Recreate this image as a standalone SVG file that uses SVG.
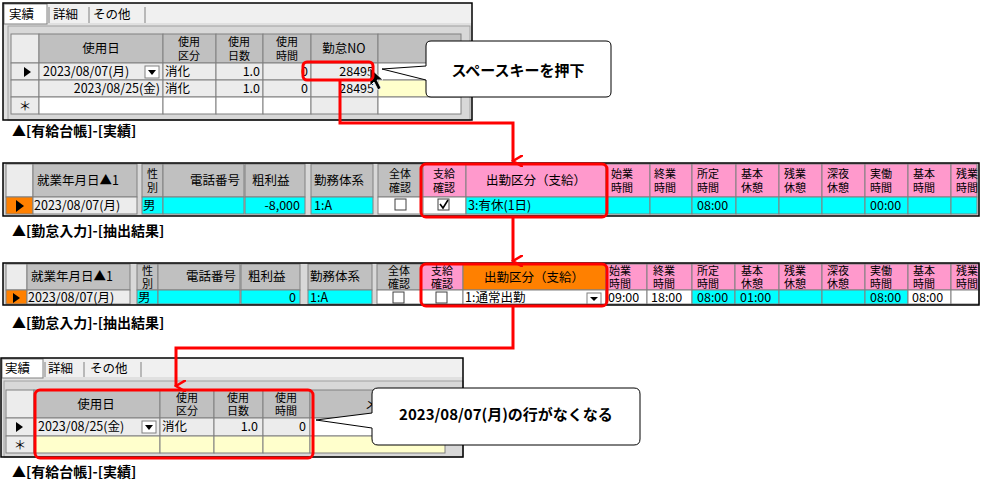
<svg xmlns="http://www.w3.org/2000/svg" width="981" height="494" viewBox="0 0 981 494">
<defs>
<style>
text{font-family:"Noto Sans CJK JP","DejaVu Sans",sans-serif;font-size:12.5px;fill:#000}
.h{font-size:11px}
.cap{font-size:14px;font-weight:bold}
.co{font-size:15px;font-weight:bold}
.g{fill:#c0c0c0;stroke:#808080;stroke-width:1}
.w{fill:#fff;stroke:#808080;stroke-width:1}
.e{fill:#ececec;stroke:#808080;stroke-width:1}
.y{fill:#ffffcc;stroke:#808080;stroke-width:1}
.p{fill:#ff99cc;stroke:#808080;stroke-width:1}
.o{fill:#ff8000;stroke:#808080;stroke-width:1}
.c{fill:#00ffff;stroke:#808080;stroke-width:1}
.red{fill:none;stroke:#ff0000;stroke-width:3}
.frame{fill:none;stroke:#000;stroke-width:1.5}
.cb{fill:#fff;stroke:#404040;stroke-width:1}
</style>
<marker id="ar" markerWidth="12" markerHeight="12" refX="6" refY="10" orient="auto" markerUnits="userSpaceOnUse"><path d="M0,0 L6,10 L12,0" fill="none" stroke="#ff0000" stroke-width="2.5"/></marker>
</defs>
<rect width="981" height="494" fill="#fff"/>

<g id="panel1">
<rect x="3" y="3" width="469" height="117" fill="#e0e0e0"/>
<rect x="3" y="3" width="469" height="20" fill="#f0f0f0"/>
<rect x="4" y="4" width="43" height="20" fill="#fff" stroke="#808080"/>
<text x="9" y="19">実績</text>
<line x1="49" y1="7" x2="49" y2="23" stroke="#808080"/><text x="53" y="19">詳細</text>
<line x1="89" y1="7" x2="89" y2="23" stroke="#808080"/><text x="93" y="19">その他</text>
<line x1="145" y1="7" x2="145" y2="23" stroke="#808080"/>
<rect x="8" y="26" width="462" height="94" fill="#d8d8d8" stroke="#a0a0a0"/>
<rect class="e" x="11" y="34" width="28" height="29"/>
<rect class="g" x="39" y="34" width="124" height="29"/><text x="101" y="53" text-anchor="middle">使用日</text>
<rect class="g" x="163" y="34" width="53" height="29"/><text class="h" x="189" y="46" text-anchor="middle">使用</text><text class="h" x="189" y="60" text-anchor="middle">区分</text>
<rect class="g" x="216" y="34" width="47" height="29"/><text class="h" x="239" y="46" text-anchor="middle">使用</text><text class="h" x="239" y="60" text-anchor="middle">日数</text>
<rect class="g" x="263" y="34" width="48" height="29"/><text class="h" x="287" y="46" text-anchor="middle">使用</text><text class="h" x="287" y="60" text-anchor="middle">時間</text>
<rect class="g" x="311" y="34" width="67" height="29"/><text x="344" y="53" text-anchor="middle">勤怠NO</text>
<rect class="g" x="378" y="34" width="83" height="29"/>
<rect class="e" x="11" y="63" width="28" height="17"/><path d="M24,67 L31,72 L24,77Z"/>
<rect class="e" x="39" y="63" width="124" height="17"/><text x="43" y="76">2023/08/07(月)</text>
<rect x="145" y="66" width="14" height="12" fill="#fff" stroke="#808080"/><path d="M148,70 L156,70 L152,75Z"/>
<rect class="e" x="163" y="63" width="53" height="17"/><text x="165" y="76">消化</text>
<rect class="e" x="216" y="63" width="47" height="17"/><text x="260" y="76" text-anchor="end">1.0</text>
<rect class="e" x="263" y="63" width="48" height="17"/><text x="308" y="76" text-anchor="end">0</text>
<rect class="e" x="311" y="63" width="67" height="17"/><text x="374" y="76" text-anchor="end">28495</text>
<rect class="w" x="378" y="63" width="83" height="17"/>
<rect class="e" x="11" y="80" width="28" height="17"/>
<rect class="e" x="39" y="80" width="124" height="17"/><text x="160" y="93" text-anchor="end">2023/08/25(金)</text>
<rect class="e" x="163" y="80" width="53" height="17"/><text x="165" y="93">消化</text>
<rect class="e" x="216" y="80" width="47" height="17"/><text x="260" y="93" text-anchor="end">1.0</text>
<rect class="e" x="263" y="80" width="48" height="17"/><text x="308" y="93" text-anchor="end">0</text>
<rect class="e" x="311" y="80" width="67" height="17"/><text x="374" y="93" text-anchor="end">28495</text>
<rect class="y" x="378" y="80" width="83" height="17"/>
<rect class="e" x="11" y="97" width="28" height="17"/><text x="25" y="111" text-anchor="middle">＊</text>
<rect class="w" x="39" y="97" width="124" height="17"/><rect class="w" x="163" y="97" width="53" height="17"/><rect class="w" x="216" y="97" width="47" height="17"/><rect class="w" x="263" y="97" width="48" height="17"/><rect class="e" x="311" y="97" width="67" height="17"/><rect class="w" x="378" y="97" width="83" height="17"/>
<rect class="frame" x="3" y="3" width="469" height="117"/>
<path d="M370,68 L370,86 L374,82 L378,90 L381,88 L377,80 L383,80Z" fill="#000" stroke="#fff" stroke-width="0.8"/>
<text class="cap" x="12" y="136">▲[有給台帳]-[実績]</text>
</g>

<g id="callout1">
<path d="M431,41 H606 Q611,41 611,46 V92 Q611,97 606,97 H431 Q426,97 426,92 V80 L382,69 L426,66 V46 Q426,41 431,41Z" fill="#fff" stroke="#000" stroke-width="1"/>
<text class="co" x="518" y="76" text-anchor="middle">スペースキーを押下</text>
</g>

<g id="panel2">
<rect x="3" y="163" width="976" height="53" fill="#d8d8d8"/>
<rect class="e" x="6" y="164" width="27" height="33"/>
<rect class="g" x="33" y="164" width="104" height="33"/><text x="37" y="185">就業年月日▲1</text>
<rect class="g" x="142" y="164" width="21" height="33"/><text class="h" x="147" y="178">性</text><text class="h" x="147" y="192">別</text>
<rect class="g" x="163" y="164" width="81" height="33"/><text x="240" y="185" text-anchor="end">電話番号</text>
<rect class="g" x="245" y="164" width="60" height="33"/><text x="252" y="185">粗利益</text>
<rect class="g" x="311" y="164" width="62" height="33"/><text x="314" y="185">勤務体系</text>
<rect class="g" x="378" y="164" width="45" height="33"/><text class="h" x="400" y="178" text-anchor="middle">全体</text><text class="h" x="400" y="192" text-anchor="middle">確認</text>
<rect class="p" x="423" y="164" width="43" height="33"/><text class="h" x="444" y="178" text-anchor="middle">支給</text><text class="h" x="444" y="192" text-anchor="middle">確認</text>
<rect class="p" x="466" y="164" width="140" height="33"/><text x="536" y="185" text-anchor="middle">出勤区分（支給）</text>
<rect class="p" x="606" y="164" width="44" height="33"/><text class="h" x="611" y="178">始業</text><text class="h" x="611" y="192">時間</text>
<rect class="p" x="650" y="164" width="42" height="33"/><text class="h" x="654" y="178">終業</text><text class="h" x="654" y="192">時間</text>
<rect class="p" x="692" y="164" width="44" height="33"/><text class="h" x="697" y="178">所定</text><text class="h" x="697" y="192">時間</text>
<rect class="p" x="736" y="164" width="43" height="33"/><text class="h" x="741" y="178">基本</text><text class="h" x="741" y="192">休憩</text>
<rect class="p" x="779" y="164" width="43" height="33"/><text class="h" x="784" y="178">残業</text><text class="h" x="784" y="192">休憩</text>
<rect class="p" x="822" y="164" width="43" height="33"/><text class="h" x="827" y="178">深夜</text><text class="h" x="827" y="192">休憩</text>
<rect class="p" x="865" y="164" width="43" height="33"/><text class="h" x="870" y="178">実働</text><text class="h" x="870" y="192">時間</text>
<rect class="p" x="908" y="164" width="43" height="33"/><text class="h" x="913" y="178">基本</text><text class="h" x="913" y="192">時間</text>
<rect class="p" x="951" y="164" width="26" height="33"/><text class="h" x="956" y="178">残業</text><text class="h" x="956" y="192">時間</text>
<rect class="o" x="6" y="197" width="27" height="17"/><path d="M16,200 L24,206 L16,212Z"/>
<rect class="e" x="33" y="197" width="104" height="17"/><text x="34" y="210">2023/08/07(月)</text>
<rect class="c" x="142" y="197" width="21" height="17"/><text x="143" y="210">男</text>
<rect class="c" x="163" y="197" width="81" height="17"/>
<rect class="c" x="245" y="197" width="60" height="17"/><text x="300" y="210" text-anchor="end">-8,000</text>
<rect class="c" x="311" y="197" width="62" height="17"/><text x="314" y="210">1:A</text>
<rect class="w" x="378" y="197" width="45" height="17"/><rect class="cb" x="395" y="199" width="11" height="11"/>
<rect class="w" x="423" y="197" width="43" height="17"/><rect class="cb" x="438" y="199" width="11" height="11"/><path d="M440,204 L443,208 L448,200" fill="none" stroke="#000" stroke-width="1.6"/>
<rect class="c" x="466" y="197" width="140" height="17"/><text x="468" y="210">3:有休(1日)</text>
<rect class="c" x="606" y="197" width="44" height="17"/><rect class="c" x="650" y="197" width="42" height="17"/>
<rect class="c" x="692" y="197" width="44" height="17"/><text x="697" y="210">08:00</text>
<rect class="c" x="736" y="197" width="43" height="17"/><rect class="c" x="779" y="197" width="43" height="17"/><rect class="c" x="822" y="197" width="43" height="17"/>
<rect class="c" x="865" y="197" width="43" height="17"/><text x="870" y="210">00:00</text>
<rect class="c" x="908" y="197" width="43" height="17"/><rect class="c" x="951" y="197" width="26" height="17"/>
<rect class="frame" x="3" y="163" width="976" height="53"/>
<text class="cap" x="12" y="236">▲[勤怠入力]-[抽出結果]</text>
</g>

<g id="panel3">
<rect x="3" y="263" width="976" height="42" fill="#d8d8d8"/>
<rect class="e" x="6" y="264" width="21" height="26"/>
<rect class="g" x="27" y="264" width="103" height="26"/><text x="31" y="281">就業年月日▲1</text>
<rect class="g" x="137" y="264" width="21" height="26"/><text class="h" x="142" y="275">性</text><text class="h" x="142" y="288">別</text>
<rect class="g" x="158" y="264" width="82" height="26"/><text x="236" y="281" text-anchor="end">電話番号</text>
<rect class="g" x="241" y="264" width="59" height="26"/><text x="248" y="281">粗利益</text>
<rect class="g" x="308" y="264" width="64" height="26"/><text x="310" y="281">勤務体系</text>
<rect class="g" x="377" y="264" width="44" height="26"/><text class="h" x="399" y="275" text-anchor="middle">全体</text><text class="h" x="399" y="288" text-anchor="middle">確認</text>
<rect class="p" x="421" y="264" width="42" height="26"/><text class="h" x="442" y="275" text-anchor="middle">支給</text><text class="h" x="442" y="288" text-anchor="middle">確認</text>
<rect class="o" x="463" y="264" width="143" height="26"/><text x="534" y="282" text-anchor="middle">出勤区分（支給）</text>
<rect class="p" x="606" y="264" width="41" height="26"/><text class="h" x="609" y="275">始業</text><text class="h" x="609" y="288">時間</text>
<rect class="p" x="647" y="264" width="45" height="26"/><text class="h" x="653" y="275">終業</text><text class="h" x="653" y="288">時間</text>
<rect class="p" x="692" y="264" width="43" height="26"/><text class="h" x="697" y="275">所定</text><text class="h" x="697" y="288">時間</text>
<rect class="p" x="735" y="264" width="44" height="26"/><text class="h" x="741" y="275">基本</text><text class="h" x="741" y="288">休憩</text>
<rect class="p" x="779" y="264" width="43" height="26"/><text class="h" x="784" y="275">残業</text><text class="h" x="784" y="288">休憩</text>
<rect class="p" x="822" y="264" width="43" height="26"/><text class="h" x="827" y="275">深夜</text><text class="h" x="827" y="288">休憩</text>
<rect class="p" x="865" y="264" width="43" height="26"/><text class="h" x="870" y="275">実働</text><text class="h" x="870" y="288">時間</text>
<rect class="p" x="908" y="264" width="43" height="26"/><text class="h" x="913" y="275">基本</text><text class="h" x="913" y="288">時間</text>
<rect class="p" x="951" y="264" width="28" height="26"/><text class="h" x="956" y="275">残業</text><text class="h" x="956" y="288">時間</text>
<rect class="o" x="6" y="290" width="21" height="14"/><path d="M13,293 L20,298 L13,303Z"/>
<rect class="e" x="27" y="290" width="103" height="14"/><text x="28" y="302">2023/08/07(月)</text>
<rect class="c" x="137" y="290" width="21" height="14"/><text x="138" y="302">男</text>
<rect class="c" x="158" y="290" width="82" height="14"/>
<rect class="c" x="241" y="290" width="59" height="14"/><text x="296" y="302" text-anchor="end">0</text>
<rect class="c" x="308" y="290" width="64" height="14"/><text x="310" y="302">1:A</text>
<rect class="w" x="377" y="290" width="44" height="14"/><rect class="cb" x="393" y="292" width="11" height="11"/>
<rect class="w" x="421" y="290" width="42" height="14"/><rect class="cb" x="436" y="292" width="11" height="11"/>
<rect class="w" x="463" y="290" width="143" height="14"/><text x="465" y="302">1:通常出勤</text>
<rect x="587" y="293" width="14" height="11" fill="#fff" stroke="#808080"/><path d="M590,297 L598,297 L594,301Z"/>
<rect class="w" x="606" y="290" width="41" height="14"/><text x="608" y="302">09:00</text>
<rect class="w" x="647" y="290" width="45" height="14"/><text x="651" y="302">18:00</text>
<rect class="c" x="692" y="290" width="43" height="14"/><text x="697" y="302">08:00</text>
<rect class="c" x="735" y="290" width="44" height="14"/><text x="740" y="302">01:00</text>
<rect class="c" x="779" y="290" width="43" height="14"/><rect class="c" x="822" y="290" width="43" height="14"/>
<rect class="c" x="865" y="290" width="43" height="14"/><text x="870" y="302">08:00</text>
<rect class="w" x="908" y="290" width="43" height="14"/><text x="912" y="302">08:00</text>
<rect class="w" x="951" y="290" width="28" height="14"/>
<rect class="frame" x="3" y="263" width="976" height="42"/>
<text class="cap" x="12" y="328">▲[勤怠入力]-[抽出結果]</text>
</g>

<g id="panel4">
<rect x="1" y="358" width="462" height="99" fill="#e0e0e0"/>
<rect x="1" y="358" width="462" height="19" fill="#f0f0f0"/>
<rect x="2" y="359" width="41" height="19" fill="#fff" stroke="#808080"/><text x="5" y="373">実績</text>
<line x1="45" y1="362" x2="45" y2="377" stroke="#808080"/><text x="48" y="373">詳細</text>
<line x1="84" y1="362" x2="84" y2="377" stroke="#808080"/><text x="90" y="373">その他</text>
<line x1="141" y1="362" x2="141" y2="377" stroke="#808080"/>
<rect x="4" y="381" width="459" height="76" fill="#d8d8d8" stroke="#a0a0a0"/>
<rect class="e" x="6" y="390" width="28" height="28"/>
<rect class="g" x="34" y="390" width="126" height="28"/><text x="96" y="409" text-anchor="middle">使用日</text>
<rect class="g" x="160" y="390" width="54" height="28"/><text class="h" x="187" y="402" text-anchor="middle">使用</text><text class="h" x="187" y="415" text-anchor="middle">区分</text>
<rect class="g" x="214" y="390" width="49" height="28"/><text class="h" x="238" y="402" text-anchor="middle">使用</text><text class="h" x="238" y="415" text-anchor="middle">日数</text>
<rect class="g" x="263" y="390" width="47" height="28"/><text class="h" x="286" y="402" text-anchor="middle">使用</text><text class="h" x="286" y="415" text-anchor="middle">時間</text>
<rect class="g" x="310" y="390" width="135" height="28"/><text x="365" y="409">メ</text>
<rect class="e" x="6" y="418" width="28" height="18"/><path d="M16,422 L23,427 L16,432Z"/>
<rect class="e" x="34" y="418" width="126" height="18"/><text x="38" y="431">2023/08/25(金)</text>
<rect x="142" y="421" width="14" height="12" fill="#fff" stroke="#808080"/><path d="M145,425 L153,425 L149,430Z"/>
<rect class="e" x="160" y="418" width="54" height="18"/><text x="162" y="431">消化</text>
<rect class="e" x="214" y="418" width="49" height="18"/><text x="258" y="431" text-anchor="end">1.0</text>
<rect class="e" x="263" y="418" width="47" height="18"/><text x="306" y="431" text-anchor="end">0</text>
<rect class="w" x="310" y="418" width="135" height="18"/>
<rect class="e" x="6" y="436" width="28" height="17"/><text x="20" y="450" text-anchor="middle">＊</text>
<rect class="y" x="34" y="436" width="126" height="17"/><rect class="y" x="160" y="436" width="54" height="17"/><rect class="y" x="214" y="436" width="49" height="17"/><rect class="y" x="263" y="436" width="47" height="17"/><rect class="y" x="310" y="436" width="135" height="17"/>
<rect class="frame" x="1" y="358" width="462" height="99"/>
<text class="cap" x="12" y="477">▲[有給台帳]-[実績]</text>
</g>

<g id="callout2">
<path d="M378,388 H634 Q640,388 640,394 V439 Q640,445 634,445 H378 Q372,445 372,439 V428 L316,420 L372,413 V394 Q372,388 378,388Z" fill="#fff" stroke="#000" stroke-width="1"/>
<text class="co" x="506" y="420" text-anchor="middle">2023/08/07(月)の行がなくなる</text>
</g>

<g id="connectors">
<rect class="red" x="303" y="62" width="70" height="18" rx="4"/>
<path class="red" d="M340,80 V123 H513 V161" marker-end="url(#ar)"/>
<rect class="red" x="421" y="164" width="186" height="53" rx="5"/>
<path class="red" d="M513,217 V261" marker-end="url(#ar)"/>
<rect class="red" x="421" y="264" width="186" height="42" rx="5"/>
<path class="red" d="M513,306 V348 H176 V386" marker-end="url(#ar)"/>
<rect class="red" x="35" y="390" width="278" height="68" rx="5"/>
</g>
</svg>
